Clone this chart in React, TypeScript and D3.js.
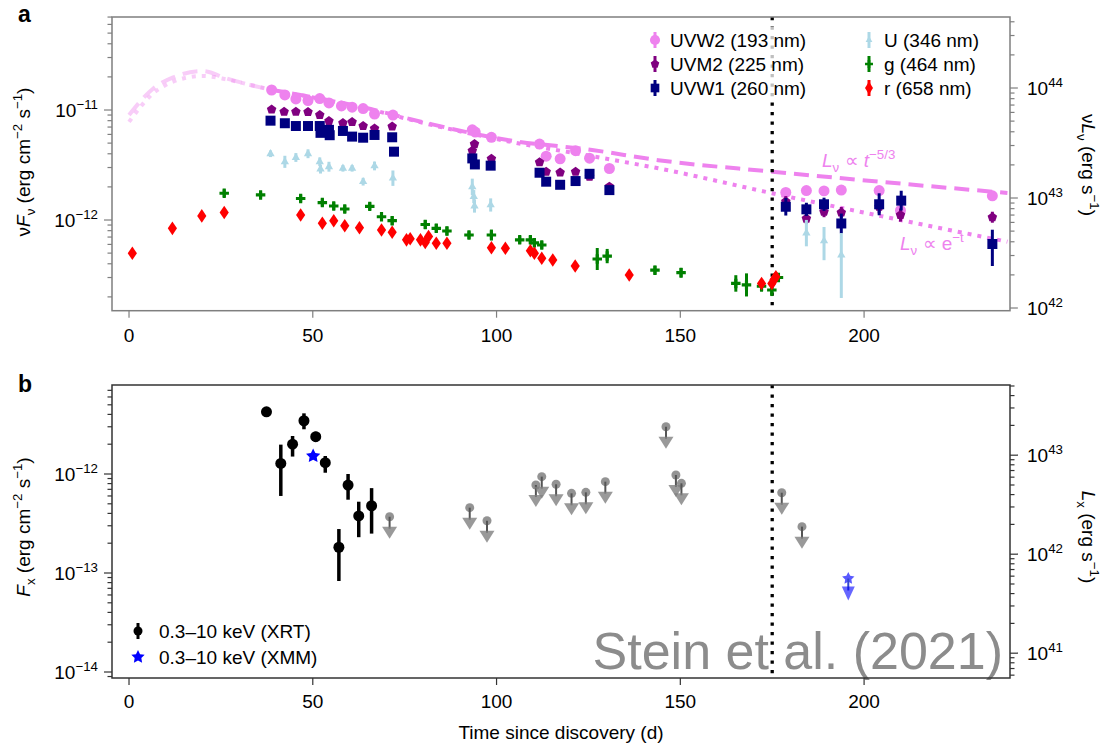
import React, { useRef, useEffect } from 'react';
import * as d3 from 'd3';

const W = 1102;
const H = 747;
const FONT = '"Liberation Sans", Arial, Helvetica, sans-serif';

// UV / optical photometry: [day, nuFnu, errDown (dex), errUp (dex)]
const uvw2 = [
  [38.8, 1.52e-11, 0.02, 0.02], [42.4, 1.37e-11, 0.02, 0.02], [45.4, 1.26e-11, 0.02, 0.02],
  [48.7, 1.22e-11, 0.02, 0.02], [51.9, 1.27e-11, 0.02, 0.02], [54.4, 1.16e-11, 0.02, 0.02],
  [57.8, 1.09e-11, 0.02, 0.02], [60.7, 1.06e-11, 0.02, 0.02], [63.7, 1.03e-11, 0.02, 0.02],
  [66.8, 9.2e-12, 0.02, 0.02], [71.8, 9.0e-12, 0.02, 0.02], [93.4, 6.6e-12, 0.02, 0.02],
  [94.2, 6.3e-12, 0.02, 0.02], [98.6, 5.65e-12, 0.02, 0.02], [111.7, 4.9e-12, 0.02, 0.02],
  [113.5, 3.8e-12, 0.02, 0.02], [117.3, 3.6e-12, 0.02, 0.02], [121.5, 4.27e-12, 0.02, 0.02],
  [125.3, 3.65e-12, 0.02, 0.02], [130.7, 2.94e-12, 0.02, 0.02], [178.7, 1.78e-12, 0.04, 0.04],
  [184.3, 1.85e-12, 0.04, 0.04], [189.1, 1.84e-12, 0.04, 0.04], [193.8, 1.87e-12, 0.04, 0.04],
  [204.1, 1.85e-12, 0.04, 0.04], [209.9, 1.22e-12, 0.04, 0.04], [234.9, 1.66e-12, 0.04, 0.04],
];
const uvm2 = [
  [38.8, 1.01e-11, 0.02, 0.02], [42.2, 9.65e-12, 0.02, 0.02], [45.4, 9.65e-12, 0.02, 0.02],
  [48.7, 9.6e-12, 0.02, 0.02], [51.9, 9.0e-12, 0.02, 0.02], [54.4, 7.94e-12, 0.025, 0.025],
  [58.2, 7.6e-12, 0.02, 0.02], [60.7, 7.78e-12, 0.02, 0.02], [63.7, 7.15e-12, 0.02, 0.02],
  [66.8, 6.8e-12, 0.02, 0.02], [71.6, 7.07e-12, 0.02, 0.02], [93.4, 4.26e-12, 0.03, 0.03],
  [94.0, 4.9e-12, 0.03, 0.03], [98.6, 3.6e-12, 0.03, 0.03], [111.7, 3.35e-12, 0.03, 0.03],
  [113.5, 2.75e-12, 0.03, 0.03], [117.3, 2.7e-12, 0.03, 0.03], [121.5, 2.75e-12, 0.03, 0.03],
  [125.3, 2.48e-12, 0.03, 0.03], [130.7, 2.01e-12, 0.03, 0.03], [178.7, 1.47e-12, 0.05, 0.05],
  [184.3, 1.03e-12, 0.05, 0.05], [189.1, 1.19e-12, 0.05, 0.05], [193.8, 1.17e-12, 0.05, 0.05],
  [204.1, 1.32e-12, 0.06, 0.06], [209.9, 1.11e-12, 0.06, 0.06], [234.9, 1.06e-12, 0.05, 0.05],
];
const uvw1 = [
  [38.5, 8.0e-12, 0.02, 0.02], [42.4, 7.58e-12, 0.02, 0.02], [45.4, 7.15e-12, 0.02, 0.02],
  [48.7, 7.15e-12, 0.02, 0.02], [51.9, 7.15e-12, 0.02, 0.02], [52.1, 6.2e-12, 0.02, 0.02],
  [54.4, 6.6e-12, 0.02, 0.02], [54.6, 5.9e-12, 0.02, 0.02], [58.2, 6.45e-12, 0.02, 0.02],
  [60.7, 5.73e-12, 0.02, 0.02], [63.7, 5.6e-12, 0.02, 0.02], [66.8, 5.93e-12, 0.02, 0.02],
  [71.6, 5.65e-12, 0.02, 0.02], [72.1, 4.18e-12, 0.02, 0.02], [93.4, 3.63e-12, 0.03, 0.03],
  [94.1, 3.2e-12, 0.03, 0.03], [98.4, 3.12e-12, 0.03, 0.03], [111.7, 2.69e-12, 0.03, 0.03],
  [113.5, 2.23e-12, 0.03, 0.03], [117.3, 2.09e-12, 0.03, 0.03], [121.5, 2.26e-12, 0.03, 0.03],
  [125.3, 2.63e-12, 0.03, 0.03], [130.7, 1.87e-12, 0.03, 0.03], [178.7, 1.32e-12, 0.08, 0.08],
  [184.3, 1.25e-12, 0.06, 0.06], [189.1, 1.39e-12, 0.06, 0.06], [193.8, 9.3e-13, 0.09, 0.09],
  [204.1, 1.39e-12, 0.1, 0.1], [210.1, 1.5e-12, 0.09, 0.09], [234.9, 6.05e-13, 0.2, 0.13],
];
const uBand = [
  [38.5, 4.0e-12, 0.03, 0.03], [42.4, 3.38e-12, 0.055, 0.055], [45.4, 3.7e-12, 0.04, 0.04],
  [48.7, 4.0e-12, 0.04, 0.04], [51.9, 3.38e-12, 0.04, 0.04], [52.1, 2.9e-12, 0.04, 0.04],
  [54.4, 3.05e-12, 0.045, 0.045], [58.2, 2.95e-12, 0.03, 0.03], [60.7, 2.95e-12, 0.03, 0.03],
  [63.7, 2.23e-12, 0.035, 0.035], [66.8, 3.1e-12, 0.04, 0.04], [71.8, 2.4e-12, 0.07, 0.07],
  [93.4, 2.0e-12, 0.075, 0.075], [93.8, 1.63e-12, 0.06, 0.06], [94.0, 1.34e-12, 0.06, 0.06],
  [98.4, 1.37e-12, 0.06, 0.06], [184.3, 7.6e-13, 0.12, 0.12], [189.1, 6.45e-13, 0.175, 0.127],
  [193.8, 4.8e-13, 0.39, 0.2],
];
const gBand = [
  [25.9, 1.75e-12, 0.035, 0.035], [35.8, 1.69e-12, 0.03, 0.03], [46.7, 1.57e-12, 0.035, 0.035],
  [52.6, 1.44e-12, 0.035, 0.035], [55.7, 1.34e-12, 0.035, 0.035], [58.7, 1.26e-12, 0.035, 0.035],
  [65.5, 1.33e-12, 0.035, 0.035], [68.7, 1.07e-12, 0.035, 0.035], [71.6, 9.86e-13, 0.04, 0.04],
  [80.6, 9.1e-13, 0.04, 0.04], [83.6, 8.4e-13, 0.04, 0.04], [86.5, 7.94e-13, 0.04, 0.04],
  [92.5, 7.3e-13, 0.035, 0.035], [98.6, 7.3e-13, 0.05, 0.05], [106.3, 6.6e-13, 0.035, 0.035],
  [109.2, 6.6e-13, 0.035, 0.035], [110.3, 6.2e-13, 0.04, 0.04], [112.3, 5.93e-13, 0.035, 0.035],
  [127.4, 4.42e-13, 0.1, 0.1], [130.1, 4.7e-13, 0.065, 0.065], [143.1, 3.5e-13, 0.04, 0.04],
  [150.2, 3.32e-13, 0.045, 0.045], [165.1, 2.65e-13, 0.075, 0.075], [168.0, 2.57e-13, 0.105, 0.105],
  [172.1, 2.5e-13, 0.05, 0.05], [174.9, 2.31e-13, 0.055, 0.055], [176.7, 3.0e-13, 0.04, 0.04],
];
const rBand = [
  [0.9, 4.98e-13, 0.03, 0.03], [11.8, 8.4e-13, 0.03, 0.03], [19.8, 1.09e-12, 0.03, 0.03],
  [25.9, 1.17e-12, 0.03, 0.03], [46.7, 1.11e-12, 0.03, 0.03], [52.6, 9.33e-13, 0.03, 0.03],
  [55.7, 9.86e-13, 0.03, 0.03], [58.7, 8.87e-13, 0.03, 0.03], [62.7, 8.5e-13, 0.03, 0.03],
  [68.7, 8.1e-13, 0.03, 0.03], [71.6, 7.73e-13, 0.03, 0.03], [75.5, 6.6e-13, 0.03, 0.03],
  [76.5, 6.75e-13, 0.03, 0.03], [79.3, 6.6e-13, 0.03, 0.03], [80.6, 6.26e-13, 0.03, 0.03],
  [81.5, 7.08e-13, 0.03, 0.03], [83.6, 6.14e-13, 0.03, 0.03], [86.5, 6.14e-13, 0.03, 0.03],
  [98.6, 5.6e-13, 0.03, 0.03], [102.4, 5.53e-13, 0.03, 0.03], [109.2, 5.26e-13, 0.03, 0.03],
  [110.3, 4.98e-13, 0.03, 0.03], [112.3, 4.49e-13, 0.03, 0.03], [115.3, 4.33e-13, 0.03, 0.03],
  [121.4, 3.82e-13, 0.03, 0.03], [136.1, 3.16e-13, 0.03, 0.03], [172.1, 2.65e-13, 0.04, 0.04],
  [174.9, 2.65e-13, 0.04, 0.04], [175.5, 2.88e-13, 0.04, 0.04], [176.0, 3.05e-13, 0.04, 0.04],
];

// blackbody fit tracks
const modelDays = [0, 6.6, 12, 20, 26.5, 33, 39, 63, 81, 103, 126, 144, 175, 239];
const modelPowerLaw = [9.0e-12, 1.57e-11, 1.98e-11, 2.26e-11, 1.94e-11, 1.69e-11, 1.52e-11, 1.07e-11, 7.6e-12, 5.33e-12, 4.33e-12, 3.5e-12, 2.75e-12, 1.76e-12];
const modelExponential = [7.8e-12, 1.42e-11, 1.81e-11, 2.04e-11, 1.9e-11, 1.69e-11, 1.52e-11, 1.06e-11, 7.5e-12, 5.2e-12, 3.8e-12, 2.95e-12, 1.75e-12, 6.35e-13];
const modelFadeDay = 39;

// X-ray: [day, flux, lower, upper]
const xrtDetections = [
  [37.4, 4.25e-12, 4.1e-12, 4.4e-12], [41.3, 1.28e-12, 6.0e-13, 1.98e-12],
  [44.5, 2.0e-12, 1.5e-12, 2.42e-12], [47.6, 3.45e-12, 2.83e-12, 4.1e-12],
  [50.8, 2.38e-12, 2.12e-12, 2.67e-12], [53.4, 1.3e-12, 1.03e-12, 1.52e-12],
  [57.1, 1.82e-13, 8.3e-14, 2.78e-13], [59.6, 7.74e-13, 5.5e-13, 1.0e-12],
  [62.5, 3.77e-13, 2.3e-13, 5.25e-13], [66.0, 4.78e-13, 2.5e-13, 7.2e-13],
];
const xrtLimits = [
  [70.9, 3.7e-13], [92.7, 4.57e-13], [97.4, 3.37e-13], [110.7, 7.74e-13], [112.3, 9.4e-13],
  [116.2, 7.87e-13], [120.4, 6.38e-13], [124.3, 6.53e-13], [129.6, 8.37e-13], [146.1, 3.0e-12],
  [148.8, 9.77e-13], [150.3, 8.05e-13], [177.6, 6.47e-13], [183.1, 2.94e-13],
];
const xmmDetections = [[50.1, 1.52e-12]];
const xmmLimits = [[195.7, 8.8e-14]];

const xTicks = [0, 50, 100, 150, 200];
const neutrinoDay = 175;

const topLegend = [
  { label: 'UVW2 (193 nm)', key: 'uvw2' }, { label: 'UVM2 (225 nm)', key: 'uvm2' },
  { label: 'UVW1 (260 nm)', key: 'uvw1' }, { label: 'U (346 nm)', key: 'u' },
  { label: 'g (464 nm)', key: 'g' }, { label: 'r (658 nm)', key: 'r' },
];

const pentagon = (r: number) =>
  d3.range(5).map(i => {
    const a = -Math.PI / 2 + (i * 2 * Math.PI) / 5;
    return (i ? 'L' : 'M') + (r * Math.cos(a)).toFixed(2) + ',' + (r * Math.sin(a)).toFixed(2);
  }).join('') + 'Z';
const fatStar = (r: number) =>
  d3.range(10).map(i => {
    const a = -Math.PI / 2 + (i * Math.PI) / 5;
    const rr = i % 2 ? r * 0.5 : r;
    return (i ? 'L' : 'M') + (rr * Math.cos(a)).toFixed(2) + ',' + (rr * Math.sin(a)).toFixed(2);
  }).join('') + 'Z';
const diamond = (w: number, h: number) => `M0,${-h}L${w},0L0,${h}L${-w},0Z`;

const bands: Record<string, { color: string; shape: string; legendShape: string }> = {
  uvw2: { color: 'violet', shape: d3.symbol(d3.symbolCircle, 95)()!, legendShape: d3.symbol(d3.symbolCircle, 80)()! },
  uvm2: { color: '#800080', shape: pentagon(5), legendShape: pentagon(4.5) },
  uvw1: { color: '#000080', shape: d3.symbol(d3.symbolSquare, 100)()!, legendShape: d3.symbol(d3.symbolSquare, 75)()! },
  u: { color: 'lightblue', shape: d3.symbol(d3.symbolTriangle, 30)()!, legendShape: d3.symbol(d3.symbolTriangle, 20)()! },
  g: { color: '#008000', shape: d3.symbol(d3.symbolCross, 50)()!, legendShape: d3.symbol(d3.symbolCross, 35)()! },
  r: { color: 'red', shape: diamond(4.6, 6.8), legendShape: diamond(4, 6.5) },
};

type Seg = [string, string?];

function richText(sel: any, segs: Seg[], fs: number) {
  let shift = 0;
  segs.forEach(([s, k]) => {
    const ts = sel.append('tspan').text(s);
    let target = 0;
    if (k === 'sup') target = -0.42 * fs;
    if (k === 'sub') target = 0.28 * fs;
    ts.attr('dy', target - shift);
    shift = target;
    if (k === 'sup' || k === 'sub') ts.attr('font-size', fs * 0.7);
    if (k === 'i') ts.attr('font-style', 'italic');
  });
}

function App() {
  const svgRef = useRef<SVGSVGElement>(null);

  useEffect(() => {
    const svg = d3.select(svgRef.current);
    svg.selectAll('*').remove();
    svg.attr('font-family', FONT);

    const left = 112, right = 1010;
    const topA = 17, botA = 310.7, topB = 385, botB = 678;
    const fs = 19;

    const x = d3.scaleLinear().domain([-4.63, 239.7]).range([left, right]);
    const yA = d3.scaleLog().domain([10 ** -12.8245, 10 ** -10.1545]).range([botA, topA]);
    const yAR = d3.scaleLog().domain([10 ** 41.9755, 10 ** 44.6455]).range([botA, topA]);
    const yB = d3.scaleLog().domain([10 ** -14.0606, 10 ** -11.101]).range([botB, topB]);
    const yBR = d3.scaleLog().domain([10 ** 40.7494, 10 ** 43.709]).range([botB, topB]);

    function logAxis(scale: any, side: 'left' | 'right', color: string) {
      const [lo, hi] = scale.domain();
      const x0 = side === 'left' ? left : right;
      const dir = side === 'left' ? -1 : 1;
      const g = svg.append('g');
      for (let e = Math.floor(Math.log10(lo)); e <= Math.ceil(Math.log10(hi)); e++) {
        for (let k = 1; k < 10; k++) {
          const v = k * 10 ** e;
          if (v < lo * 0.999 || v > hi * 1.002) continue;
          const yy = scale(v);
          const len = k === 1 ? 8 : 4.5;
          g.append('line').attr('x1', x0).attr('x2', x0 + dir * len).attr('y1', yy).attr('y2', yy)
            .attr('stroke', color).attr('stroke-width', 1.2);
          if (k === 1) {
            const t = g.append('text').attr('x', side === 'left' ? 98 : 1027).attr('y', yy + 6.5)
              .attr('text-anchor', side === 'left' ? 'end' : 'start').attr('font-size', fs);
            richText(t, [['10'], [String(e).replace('-', '\u2212'), 'sup']], fs);
          }
        }
      }
    }

    function xAxis(y0: number, color: string, labelY: number) {
      const g = svg.append('g');
      xTicks.forEach(t => {
        g.append('line').attr('x1', x(t)).attr('x2', x(t)).attr('y1', y0).attr('y2', y0 + 7)
          .attr('stroke', color).attr('stroke-width', 1.2);
        g.append('text').attr('x', x(t)).attr('y', labelY).attr('text-anchor', 'middle')
          .attr('font-size', fs).text(t);
      });
    }

    function series(g: any, data: number[][], key: string, yS: any) {
      const b = bands[key];
      data.forEach(([d, v, dn, up]) => {
        g.append('line').attr('x1', x(d)).attr('x2', x(d))
          .attr('y1', yS(v / 10 ** dn)).attr('y2', yS(v * 10 ** up))
          .attr('stroke', b.color).attr('stroke-width', 3);
        g.append('path').attr('d', b.shape).attr('transform', `translate(${x(d)},${yS(v)})`).attr('fill', b.color);
      });
    }

    // ---------- panel a ----------
    const line = d3.line<number[]>().x(d => x(d[0])).y(d => yA(d[1])).curve(d3.curveMonotoneX);
    const models = [
      { vals: modelPowerLaw, dash: '15 8' },
      { vals: modelExponential, dash: '4 6' },
    ];
    models.forEach(m => {
      const pts = modelDays.map((d, i) => [d, m.vals[i]]);
      svg.append('path').attr('d', line(pts.filter(p => p[0] <= modelFadeDay)))
        .attr('fill', 'none').attr('stroke', 'violet').attr('stroke-opacity', 0.4)
        .attr('stroke-width', 4).attr('stroke-dasharray', m.dash);
      svg.append('path').attr('d', line(pts.filter(p => p[0] >= modelFadeDay)))
        .attr('fill', 'none').attr('stroke', 'violet')
        .attr('stroke-width', 4).attr('stroke-dasharray', m.dash);
    });

    svg.append('line').attr('x1', x(neutrinoDay)).attr('x2', x(neutrinoDay)).attr('y1', topA).attr('y2', botA)
      .attr('stroke', 'black').attr('stroke-width', 3.3).attr('stroke-dasharray', '3.3 6.2');

    const pa = svg.append('g');
    series(pa, uvw2, 'uvw2', yA);
    series(pa, uvm2, 'uvm2', yA);
    series(pa, uvw1, 'uvw1', yA);
    series(pa, uBand, 'u', yA);
    series(pa, gBand, 'g', yA);
    series(pa, rBand, 'r', yA);

    // legend a
    svg.append('rect').attr('x', 640).attr('y', 27).attr('width', 360).attr('height', 72)
      .attr('fill', 'white').attr('fill-opacity', 0.75);
    topLegend.forEach((it, i) => {
      const col = Math.floor(i / 3), row = i % 3;
      const mx = col ? 869 : 655, ly = 40 + row * 24;
      const b = bands[it.key];
      svg.append('line').attr('x1', mx).attr('x2', mx).attr('y1', ly - 8).attr('y2', ly + 8)
        .attr('stroke', b.color).attr('stroke-width', 3);
      svg.append('path').attr('d', b.legendShape).attr('transform', `translate(${mx},${ly})`).attr('fill', b.color);
      svg.append('text').attr('x', mx + 15).attr('y', ly + 6.5).attr('font-size', fs).text(it.label);
    });

    // model labels
    const l1 = svg.append('text').attr('x', 822).attr('y', 167).attr('font-size', fs).attr('fill', 'violet');
    richText(l1, [['L', 'i'], ['\u03bd', 'sub'], [' \u221d '], ['t', 'i'], ['\u22125/3', 'sup']], fs);
    const l2 = svg.append('text').attr('x', 900).attr('y', 250).attr('font-size', fs).attr('fill', 'violet');
    richText(l2, [['L', 'i'], ['\u03bd', 'sub'], [' \u221d e'], ['\u2212t', 'sup']], fs);

    svg.append('rect').attr('x', left).attr('y', topA).attr('width', right - left).attr('height', botA - topA)
      .attr('fill', 'none').attr('stroke', '#7f7f7f').attr('stroke-width', 1.5);
    logAxis(yA, 'left', '#7f7f7f');
    logAxis(yAR, 'right', '#7f7f7f');
    xAxis(botA, '#7f7f7f', 342);

    const tA = svg.append('text').attr('transform', 'translate(30,162) rotate(-90)')
      .attr('text-anchor', 'middle').attr('font-size', fs);
    richText(tA, [['\u03bd'], ['F', 'i'], ['\u03bd', 'sub'], [' (erg cm'], ['\u22122', 'sup'], [' s'], ['\u22121', 'sup'], [')']], fs);
    const tAR = svg.append('text').attr('transform', 'translate(1082,165) rotate(90)')
      .attr('text-anchor', 'middle').attr('font-size', fs);
    richText(tAR, [['\u03bd'], ['L', 'i'], ['\u03bd', 'sub'], [' (erg s'], ['\u22121', 'sup'], [')']], fs);

    svg.append('text').attr('x', 18).attr('y', 22).attr('font-size', 23).attr('font-weight', 'bold').text('a');

    // ---------- panel b ----------
    svg.append('line').attr('x1', x(neutrinoDay)).attr('x2', x(neutrinoDay)).attr('y1', topB).attr('y2', botB)
      .attr('stroke', 'black').attr('stroke-width', 3.3).attr('stroke-dasharray', '3.3 6.2');

    svg.append('text').attr('x', 1003).attr('y', 669).attr('text-anchor', 'end').attr('font-size', 52)
      .attr('fill', '#8c8c8c').text('Stein et al. (2021)');

    const pb = svg.append('g');
    xrtLimits.forEach(([d, v]) => {
      const cx = x(d), cy = yB(v);
      pb.append('circle').attr('cx', cx).attr('cy', cy).attr('r', 4.5).attr('fill', 'gray').attr('fill-opacity', 0.85);
      pb.append('line').attr('x1', cx).attr('x2', cx).attr('y1', cy).attr('y2', cy + 12)
        .attr('stroke', '#555').attr('stroke-width', 2);
      pb.append('path').attr('d', `M${cx - 7.5},${cy + 10}L${cx + 7.5},${cy + 10}L${cx},${cy + 22}Z`)
        .attr('fill', 'gray').attr('fill-opacity', 0.8);
    });
    xrtDetections.forEach(([d, v, lo, hi]) => {
      pb.append('line').attr('x1', x(d)).attr('x2', x(d)).attr('y1', yB(lo)).attr('y2', yB(hi))
        .attr('stroke', 'black').attr('stroke-width', 3.5);
      pb.append('circle').attr('cx', x(d)).attr('cy', yB(v)).attr('r', 5.5).attr('fill', 'black');
    });
    const star = fatStar(7.5);
    xmmDetections.forEach(([d, v]) => {
      pb.append('path').attr('d', star).attr('transform', `translate(${x(d)},${yB(v)})`).attr('fill', 'blue');
    });
    xmmLimits.forEach(([d, v]) => {
      const cx = x(d), cy = yB(v);
      pb.append('path').attr('d', fatStar(6.5)).attr('transform', `translate(${cx},${cy})`).attr('fill', 'blue').attr('fill-opacity', 0.65);
      pb.append('line').attr('x1', cx).attr('x2', cx).attr('y1', cy).attr('y2', cy + 12)
        .attr('stroke', '#3347cc').attr('stroke-width', 2);
      pb.append('path').attr('d', `M${cx - 6.5},${cy + 8}L${cx + 6.5},${cy + 8}L${cx},${cy + 22}Z`)
        .attr('fill', 'blue').attr('fill-opacity', 0.6);
    });

    // legend b
    svg.append('line').attr('x1', 138).attr('x2', 138).attr('y1', 623).attr('y2', 639)
      .attr('stroke', 'black').attr('stroke-width', 3);
    svg.append('circle').attr('cx', 138).attr('cy', 631).attr('r', 4.5).attr('fill', 'black');
    svg.append('text').attr('x', 159).attr('y', 637.5).attr('font-size', fs).text('0.3\u201310 keV (XRT)');
    svg.append('path').attr('d', fatStar(7)).attr('transform', 'translate(138,657)').attr('fill', 'blue');
    svg.append('text').attr('x', 159).attr('y', 663.5).attr('font-size', fs).text('0.3\u201310 keV (XMM)');

    svg.append('rect').attr('x', left).attr('y', topB).attr('width', right - left).attr('height', botB - topB)
      .attr('fill', 'none').attr('stroke', '#333').attr('stroke-width', 1.5);
    logAxis(yB, 'left', '#333');
    logAxis(yBR, 'right', '#333');
    xAxis(botB, '#333', 708);

    const tB = svg.append('text').attr('transform', 'translate(30,527) rotate(-90)')
      .attr('text-anchor', 'middle').attr('font-size', fs);
    richText(tB, [['F', 'i'], ['x', 'sub'], [' (erg cm'], ['\u22122', 'sup'], [' s'], ['\u22121', 'sup'], [')']], fs);
    const tBR = svg.append('text').attr('transform', 'translate(1082,537) rotate(90)')
      .attr('text-anchor', 'middle').attr('font-size', fs);
    richText(tBR, [['L', 'i'], ['x', 'sub'], [' (erg s'], ['\u22121', 'sup'], [')']], fs);

    svg.append('text').attr('x', 18).attr('y', 392).attr('font-size', 23).attr('font-weight', 'bold').text('b');

    svg.append('text').attr('x', (left + right) / 2).attr('y', 739).attr('text-anchor', 'middle')
      .attr('font-size', fs).text('Time since discovery (d)');
  }, []);

  return <svg ref={svgRef} width={W} height={H} style={{ position: 'absolute', left: 0, top: 0, background: 'white' }} />;
}

export default App;
